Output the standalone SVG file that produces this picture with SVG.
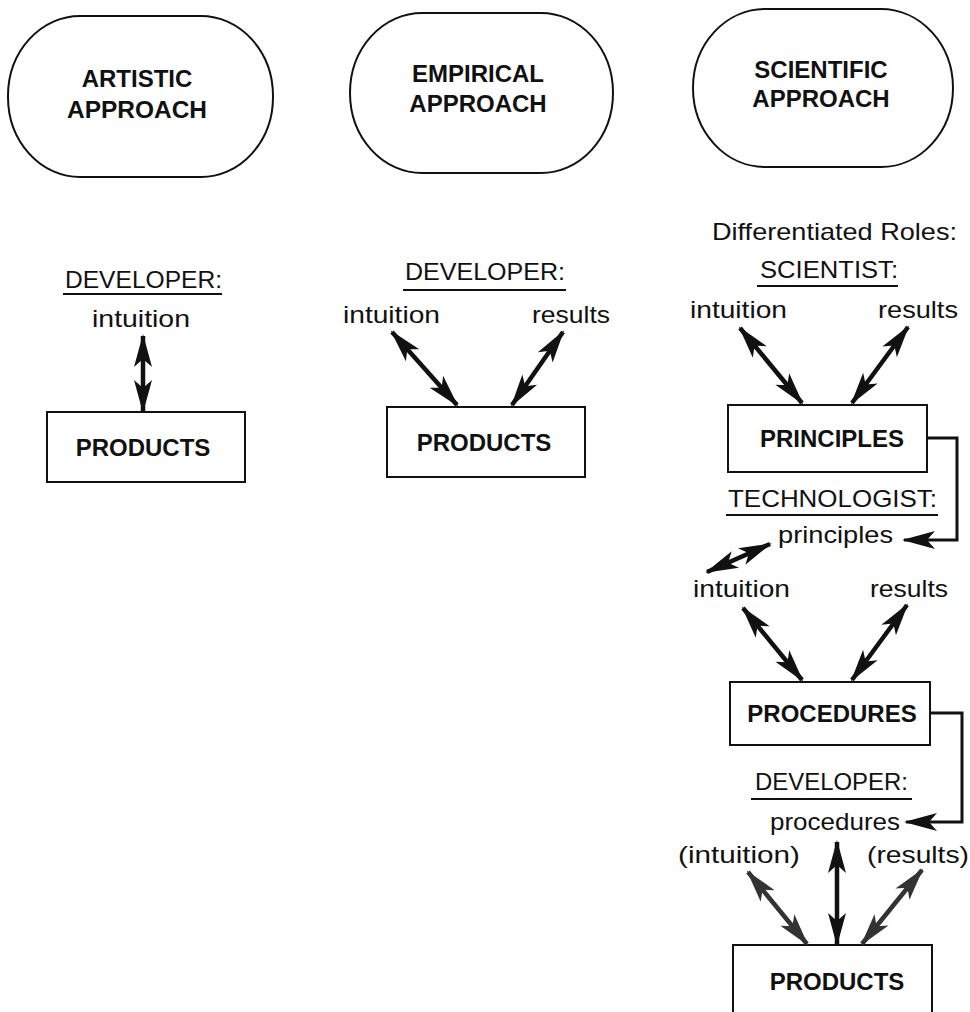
<svg xmlns="http://www.w3.org/2000/svg" width="970" height="1012" viewBox="0 0 970 1012">
<style>
.oval{fill:none;stroke:#111;stroke-width:2}
.box{fill:#fff;stroke:#111;stroke-width:2}
.bt{font-family:"Liberation Sans",Arial,sans-serif;font-weight:bold;font-size:24px;fill:#111;text-anchor:middle}
.lt{font-family:"Liberation Sans",Arial,sans-serif;font-size:24px;fill:#111}
.ul{stroke:#111;stroke-width:2}
.arr{stroke:#111;stroke-width:4.5;fill:none;marker-start:url(#ah);marker-end:url(#ah)}
.arrg{stroke:#333;stroke-width:4.5;fill:none;marker-start:url(#ahg);marker-end:url(#ahg)}
.elb{stroke:#111;stroke-width:3;fill:none;marker-end:url(#ah)}
</style>
<defs>
<marker id="ah" viewBox="-34 -12 38 24" refX="0" refY="0" markerWidth="38" markerHeight="24" markerUnits="userSpaceOnUse" orient="auto-start-reverse">
<path d="M2,0 L-31,-9 L-23,0 L-31,9 Z" fill="#111"/>
</marker>
<marker id="ahg" viewBox="-34 -12 38 24" refX="0" refY="0" markerWidth="38" markerHeight="24" markerUnits="userSpaceOnUse" orient="auto-start-reverse">
<path d="M2,0 L-31,-9 L-23,0 L-31,9 Z" fill="#333"/>
</marker>
</defs>

<g id="artistic-approach">
<rect class="oval" x="8" y="16" width="265" height="161" rx="72" ry="80"/>
<text class="bt" x="137" y="87">ARTISTIC</text>
<text class="bt" x="137" y="118" textLength="140" lengthAdjust="spacingAndGlyphs">APPROACH</text>
</g>
<g id="empirical-approach">
<rect class="oval" x="350" y="13" width="263" height="160" rx="72" ry="80"/>
<text class="bt" x="478" y="82">EMPIRICAL</text>
<text class="bt" x="478" y="112">APPROACH</text>
</g>
<g id="scientific-approach">
<rect class="oval" x="693" y="9" width="260" height="158" rx="72" ry="79"/>
<text class="bt" x="821" y="78">SCIENTIFIC</text>
<text class="bt" x="821" y="107">APPROACH</text>
</g>

<g id="artistic-labels">
<text class="lt" x="65" y="288" textLength="157" lengthAdjust="spacingAndGlyphs">DEVELOPER:</text>
<line class="ul" x1="63" y1="294" x2="222" y2="294"/>
<text class="lt" x="92" y="327" textLength="98" lengthAdjust="spacingAndGlyphs">intuition</text>
</g>
<g id="artistic-products">
<rect class="box" x="47" y="412" width="198" height="70"/>
<text class="bt" x="143" y="456">PRODUCTS</text>
</g>

<g id="empirical-labels">
<text class="lt" x="405" y="280" textLength="160" lengthAdjust="spacingAndGlyphs">DEVELOPER:</text>
<line class="ul" x1="403" y1="290" x2="566" y2="290"/>
<text class="lt" x="343" y="323" textLength="97" lengthAdjust="spacingAndGlyphs">intuition</text>
<text class="lt" x="532" y="323" textLength="78" lengthAdjust="spacingAndGlyphs">results</text>
</g>
<g id="empirical-products">
<rect class="box" x="387" y="407" width="198" height="70"/>
<text class="bt" x="484" y="451">PRODUCTS</text>
</g>

<g id="scientist-labels">
<text class="lt" x="712" y="240" textLength="245" lengthAdjust="spacingAndGlyphs">Differentiated Roles:</text>
<text class="lt" x="760" y="278" textLength="138" lengthAdjust="spacingAndGlyphs">SCIENTIST:</text>
<line class="ul" x1="757" y1="286" x2="898" y2="286"/>
<text class="lt" x="690" y="318" textLength="97" lengthAdjust="spacingAndGlyphs">intuition</text>
<text class="lt" x="878" y="318" textLength="80" lengthAdjust="spacingAndGlyphs">results</text>
</g>
<g id="principles">
<rect class="box" x="728" y="405" width="199" height="67"/>
<text class="bt" x="832" y="447">PRINCIPLES</text>
</g>

<g id="technologist-labels">
<text class="lt" x="728" y="507" textLength="209" lengthAdjust="spacingAndGlyphs">TECHNOLOGIST:</text>
<line class="ul" x1="726" y1="515" x2="938" y2="515"/>
<text class="lt" x="778" y="543" textLength="115" lengthAdjust="spacingAndGlyphs">principles</text>
<text class="lt" x="693" y="597" textLength="97" lengthAdjust="spacingAndGlyphs">intuition</text>
<text class="lt" x="870" y="597" textLength="78" lengthAdjust="spacingAndGlyphs">results</text>
</g>
<g id="procedures">
<rect class="box" x="730" y="682" width="200" height="63"/>
<text class="bt" x="832" y="722">PROCEDURES</text>
</g>

<g id="developer-labels">
<text class="lt" x="755" y="790" textLength="153" lengthAdjust="spacingAndGlyphs">DEVELOPER:</text>
<line class="ul" x1="751" y1="799" x2="912" y2="799"/>
<text class="lt" x="770" y="830" textLength="130" lengthAdjust="spacingAndGlyphs">procedures</text>
<text class="lt" x="678" y="863" textLength="122" lengthAdjust="spacingAndGlyphs">(intuition)</text>
<text class="lt" x="867" y="863" textLength="102" lengthAdjust="spacingAndGlyphs">(results)</text>
</g>
<g id="developer-products">
<rect class="box" x="733" y="945" width="199" height="70"/>
<text class="bt" x="837" y="990">PRODUCTS</text>
</g>

<g id="connectors">
<line class="arr" x1="143" y1="336" x2="143" y2="411"/>
<line class="arr" x1="392" y1="332" x2="457" y2="405"/>
<line class="arr" x1="563" y1="332" x2="512" y2="405"/>
<line class="arr" x1="740" y1="328" x2="802" y2="403"/>
<line class="arr" x1="908" y1="327" x2="852" y2="403"/>
<polyline class="elb" points="927,438 957,438 957,540 904,540"/>
<line class="arr" x1="707" y1="572" x2="770" y2="544"/>
<line class="arr" x1="743" y1="608" x2="802" y2="680"/>
<line class="arr" x1="907" y1="605" x2="852" y2="680"/>
<polyline class="elb" points="930,713 962,713 962,822 906,822"/>
<line class="arrg" x1="748" y1="872" x2="807" y2="944"/>
<line class="arr" x1="837" y1="842" x2="837" y2="944"/>
<line class="arrg" x1="922" y1="870" x2="862" y2="944"/>
</g>
</svg>
